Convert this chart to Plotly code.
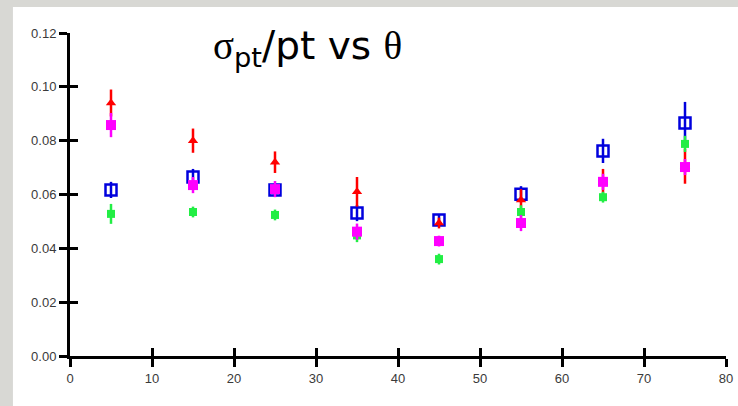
import plotly.graph_objects as go

# Polar angle bins (degrees)
theta = [5, 15, 25, 35, 45, 55, 65, 75]

# sigma_pt / pt resolution per sample, with uncertainties
red_val = [0.094, 0.0800, 0.0720, 0.0610, 0.0494, 0.0580, 0.0645, 0.0705]
red_err = [0.0050, 0.0045, 0.0040, 0.0055, 0.0020, 0.0040, 0.0050, 0.0065]

magenta_val = [0.0858, 0.0635, 0.0620, 0.0462, 0.0427, 0.0494, 0.0647, 0.0702]
magenta_err = [0.0045, 0.0030, 0.0030, 0.0030, 0.0020, 0.0030, 0.0030, 0.0030]

blue_val = [0.0617, 0.0665, 0.0617, 0.0531, 0.0505, 0.0601, 0.0762, 0.0866]
blue_err = [0.0030, 0.0030, 0.0025, 0.0030, 0.0020, 0.0030, 0.0045, 0.0078]

green_val = [0.0528, 0.0535, 0.0524, 0.0448, 0.0360, 0.0535, 0.0590, 0.0788]
green_err = [0.0037, 0.0020, 0.0020, 0.0025, 0.0020, 0.0025, 0.0020, 0.0030]

x_ticks = [0, 10, 20, 30, 40, 50, 60, 70, 80]
y_ticks = [0.00, 0.02, 0.04, 0.06, 0.08, 0.10, 0.12]

fig = go.Figure()


def add_series(vals, errs, color, symbol, size, line_w=0, fill=None):
    fig.add_trace(go.Scatter(
        x=theta, y=vals, mode="markers",
        error_y=dict(type="data", array=errs, visible=True,
                     color=color, thickness=2.5, width=0),
        marker=dict(symbol=symbol, size=size,
                    color=fill if fill is not None else color,
                    line=dict(color=color, width=line_w)),
        showlegend=False, hoverinfo="skip",
    ))


add_series(blue_val, blue_err, "#0000dd", "square-open", 11, line_w=2.5)
add_series(red_val, red_err, "#ff0000", "triangle-up", 9)
add_series(green_val, green_err, "#22ee44", "square", 8)
add_series(magenta_val, magenta_err, "#ff00ff", "square", 10)

axis_common = dict(showgrid=False, zeroline=False, ticks="outside",
                   ticklen=8, tickwidth=3, tickcolor="black",
                   showline=True, linecolor="black", linewidth=3,
                   automargin=False,
                   tickfont=dict(family="Liberation Sans, Arial", size=13,
                                 color="#3a3a3a"))

inner_ticks = dict(showticklabels=False, ticks="inside", ticklen=8,
                   tickwidth=3, tickcolor="black", showgrid=False,
                   zeroline=False, showline=False, automargin=False)

title_html = ('<span style="font-family:Liberation Serif, serif">σ</span>'
              '<sub>pt</sub>/pt vs '
              '<span style="font-family:Liberation Serif, serif">θ</span>')

fig.update_layout(
    width=738, height=406,
    margin=dict(l=70, r=12, t=33, b=50, autoexpand=False),
    paper_bgcolor="#d8d8d4",
    plot_bgcolor="white",
    xaxis=dict(range=[0, 80], tickvals=x_ticks,
               ticktext=[str(v) for v in x_ticks], **axis_common),
    yaxis=dict(range=[0, 0.12], tickvals=y_ticks,
               ticktext=["%.2f" % v for v in y_ticks], **axis_common),
    # mirrored inner ticks so the tick marks straddle the axis lines
    xaxis2=dict(range=[0, 80], tickvals=x_ticks, overlaying="x",
                side="bottom", **inner_ticks),
    yaxis2=dict(range=[0, 0.12], tickvals=y_ticks, overlaying="y",
                side="left", **inner_ticks),
    shapes=[dict(type="rect", xref="paper", yref="paper",
                 x0=-0.087, x1=1.05, y0=-0.2, y1=1.0805,
                 fillcolor="white", line=dict(width=0), layer="below")],
    annotations=[dict(
        text=title_html, xref="paper", yref="paper",
        x=0.215, y=0.955, xanchor="left", yanchor="middle", showarrow=False,
        font=dict(family="DejaVu Sans", size=39, color="black"))],
)

# invisible trace that activates the secondary tick axes
fig.add_trace(go.Scatter(x=[None], y=[None], xaxis="x2", yaxis="y2",
                         showlegend=False, hoverinfo="skip"))

fig.write_html("out.html")
